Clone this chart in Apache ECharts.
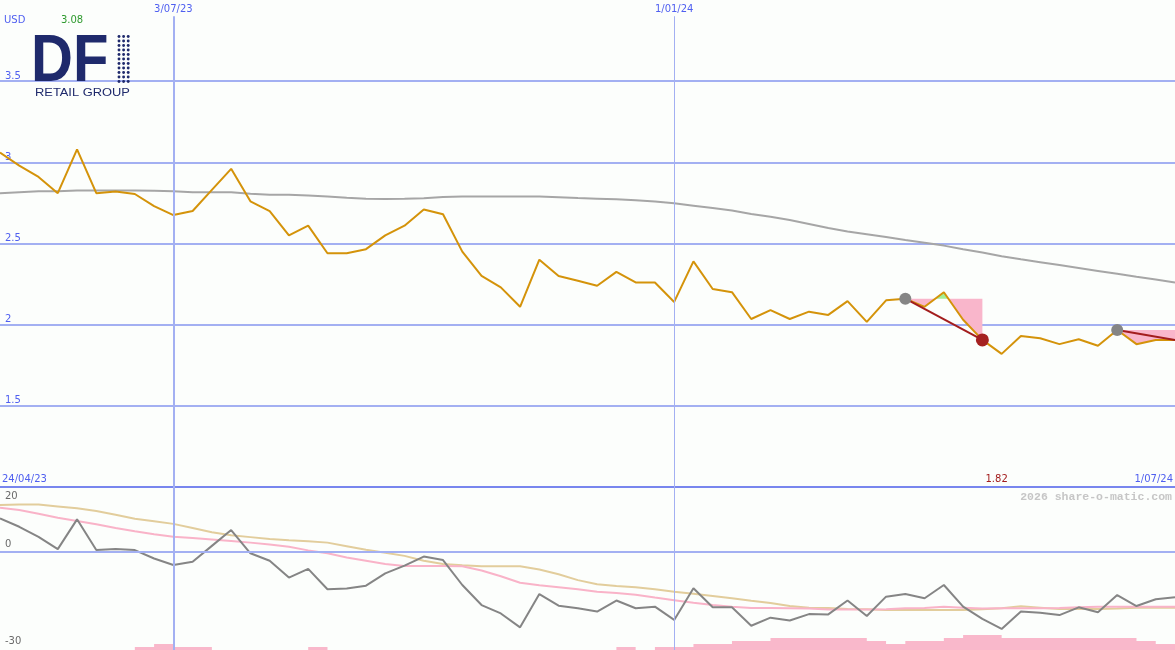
<!DOCTYPE html>
<html><head><meta charset="utf-8">
<script src="https://cdn.jsdelivr.net/npm/echarts@6/dist/echarts.min.js"></script>
<style>html,body{margin:0;padding:0;background:#fcfefc}#c{width:1175px;height:650px}</style>
</head><body><div id="c"></div>
<script>
// ---------- DATA (weekly, first point 1/05/23) ----------
const price = [3.06,2.98,2.91,2.81,3.08,2.81,2.82,2.805,2.73,2.675,
  2.70,2.83,2.96,2.76,2.70,2.55,2.61,2.44,2.44,2.465,
  2.55,2.61,2.71,2.68,2.45,2.30,2.23,2.11,2.40,2.30,
  2.27,2.24,2.325,2.26,2.26,2.14,2.39,2.22,2.20,2.035,
  2.09,2.035,2.08,2.06,2.145,2.017,2.15,2.16,2.11,2.20,
  2.03,1.906,1.82,1.93,1.916,1.88,1.91,1.87,1.967,1.88,
  1.905,1.905];
const priceMA = [2.81,2.816,2.822,2.822,2.826,2.826,2.826,2.826,2.825,2.822,
  2.816,2.816,2.816,2.807,2.80,2.80,2.795,2.789,2.782,2.776,
  2.774,2.776,2.779,2.786,2.789,2.79,2.79,2.79,2.79,2.785,
  2.78,2.776,2.772,2.766,2.758,2.748,2.733,2.718,2.703,2.682,
  2.665,2.645,2.62,2.595,2.574,2.557,2.54,2.522,2.505,2.487,
  2.465,2.445,2.422,2.403,2.385,2.367,2.349,2.331,2.313,2.295,
  2.278,2.26];
const oscillator = [10.3,7.7,4.6,0.8,10.0,0.5,0.8,0.5,-2.1,-4.1,
  -3.1,1.8,6.7,-0.5,-2.8,-8.0,-5.3,-11.6,-11.4,-10.5,
  -6.7,-4.3,-1.5,-2.6,-10.3,-16.5,-19.1,-23.4,-13.1,-16.7,
  -17.5,-18.5,-15.1,-17.5,-17.0,-21.1,-11.3,-17.2,-17.2,-22.9,
  -20.4,-21.3,-19.3,-19.4,-15.1,-19.9,-13.9,-13.1,-14.4,-10.3,
  -17.0,-20.8,-23.9,-18.5,-18.9,-19.6,-17.2,-18.7,-13.4,-16.8,
  -14.7,-14.1];
const oscSlow = [14.4,14.6,14.6,14.0,13.4,12.6,11.4,10.2,9.4,8.6,
  7.3,6.0,5.1,4.5,3.9,3.5,3.2,2.8,1.7,0.6,
  -0.3,-1.3,-2.8,-3.8,-4.2,-4.5,-4.5,-4.5,-5.5,-7.0,
  -8.8,-10.1,-10.6,-11.0,-11.6,-12.4,-13.0,-13.7,-14.4,-15.2,
  -15.9,-16.8,-17.3,-17.4,-17.7,-17.8,-18.0,-18.0,-18.0,-18.0,
  -18.0,-17.8,-17.5,-16.9,-17.3,-17.7,-17.7,-17.7,-17.6,-17.3,
  -17.3,-17.3];
const oscFast = [13.6,12.9,11.7,10.5,9.5,8.5,7.3,6.3,5.4,4.6,
  4.2,3.8,3.3,2.8,2.2,1.5,0.4,-0.5,-1.8,-2.8,
  -3.8,-4.4,-4.4,-4.4,-4.5,-5.8,-7.6,-9.6,-10.4,-11.0,
  -11.6,-12.4,-12.8,-13.3,-14.2,-15.0,-15.8,-16.5,-17.0,-17.4,
  -17.4,-17.5,-17.6,-17.9,-17.9,-17.9,-17.8,-17.5,-17.4,-17.0,
  -17.3,-17.6,-17.5,-17.5,-17.5,-17.4,-17.2,-17.0,-17.0,-17.0,
  -17.0,-17.0];
const lowerBars = [0,0,0,0,0,0,0,1,2,1,
  1,0,0,0,0,0,1,0,0,0,
  0,0,0,0,0,0,0,0,0,0,
  0,0,1,0,1,1,2,2,3,3,
  4,4,4,4,4,3,2,3,3,4,
  5,5,4,4,4,4,4,4,4,3,
  2,2];
const dateMarks = [{idx:9,label:'3/07/23',w:2},{idx:35,label:'1/01/24',w:1}];
const rangeLabels = ['24/04/23','1/07/24'];
const upperTicks = [1.5,2,2.5,3,3.5];
const lowerTicks = [20,0,-30];
const currency = 'USD';
const drawdowns = [{from:47,to:51,closed:true},{from:58,to:61,closed:false}];
const N = price.length;

// ---------- STYLE ----------
const BLUE_TXT = '#4f5ff0', GRID_C = '#a3b0f2', SEP_C = '#7886ee';
const NAVY = '#1f2a6c';
const LFONT = '"DejaVu Sans"';
const pts = a => a.map((v,i)=>[i,v]);

const chart = echarts.init(document.getElementById('c'), null, {renderer:'canvas'});

const option = {
  animation:false,
  backgroundColor:'#fcfefc',
  grid:[{left:0,right:0,top:0,height:487},{left:0,right:0,top:487,height:163}],
  xAxis:[
    {type:'value',gridIndex:0,min:0,max:N-1,show:false},
    {type:'value',gridIndex:1,min:0,max:N-1,show:false}
  ],
  yAxis:[
    {type:'value',gridIndex:0,min:1,max:4,interval:0.5,
     axisLine:{show:false},axisTick:{show:false},
     axisLabel:{inside:true,margin:5,color:BLUE_TXT,fontFamily:'DejaVu Sans',fontSize:10,verticalAlign:'bottom',
       formatter:v=>upperTicks.indexOf(v)>=0?String(v):''},
     splitLine:{show:true,lineStyle:{width:2,color:[SEP_C,GRID_C,GRID_C,GRID_C,GRID_C,GRID_C,'rgba(0,0,0,0)']}}},
    {type:'value',gridIndex:1,min:-30.4,max:20,show:false},
    {type:'value',gridIndex:1,min:0,max:54,show:false}
  ],
  series:[
    {type:'line',xAxisIndex:0,yAxisIndex:0,data:pts(priceMA),symbol:'none',silent:true,z:2,
     lineStyle:{color:'#a6a6a6',width:2},
     markLine:{symbol:'none',silent:true,animation:false,
       data:dateMarks.map(d=>[
         {coord:[d.idx,3.9],lineStyle:{color:GRID_C,width:d.w,type:'solid'},
          label:{show:true,position:'start',distance:2,formatter:d.label,color:BLUE_TXT,fontFamily:'DejaVu Sans',fontSize:10}},
         {coord:[d.idx,1]}])}},
    {type:'custom',xAxisIndex:0,yAxisIndex:0,data:[0],z:3,silent:true,
     renderItem:(params,api)=>{
       const children=[];
       drawdowns.forEach(dd=>{
         const a=dd.from,b=dd.to,level=price[a];
         const seq=[[a,price[a]]];
         for(let i=a;i<b;i++){
           const p0=price[i],p1=price[i+1];
           if((p0-level)*(p1-level)<0){const t=(level-p0)/(p1-p0);seq.push([i+t,level]);}
           seq.push([i+1,p1]);
         }
         const back=[api.coord([b,level]),api.coord([a,level])];
         const below=seq.map(([x,v])=>api.coord([x,Math.min(v,level)]));
         const above=seq.map(([x,v])=>api.coord([x,Math.max(v,level)]));
         children.push({type:'polygon',shape:{points:below.concat(back)},style:{fill:'#f9b6cb'}});
         children.push({type:'polygon',shape:{points:above.concat(back)},style:{fill:'#a2f096'}});
       });
       return {type:'group',children};
     }},
    {type:'line',xAxisIndex:0,yAxisIndex:0,data:pts(price),symbol:'none',silent:true,z:4,
     lineStyle:{color:'#d4930a',width:2}},
    ...drawdowns.map(dd=>({type:'line',xAxisIndex:0,yAxisIndex:0,silent:true,z:5,
      symbol:'circle',showAllSymbol:true,
      lineStyle:{color:'#a31d1d',width:2},
      data:[
        {value:[dd.from,price[dd.from]],symbolSize:12,itemStyle:{color:'#858585'}},
        {value:[dd.to,price[dd.to]],symbolSize:dd.closed?13:0,itemStyle:{color:'#a52121'}}
      ]})),
    // lower panel
    {type:'line',xAxisIndex:1,yAxisIndex:2,data:pts(lowerBars),step:'end',symbol:'none',silent:true,z:1,
     lineStyle:{width:0,color:'#f9b8cb'},areaStyle:{color:'#f9b8cb',opacity:1}},
    {type:'line',xAxisIndex:1,yAxisIndex:1,data:pts(oscSlow),symbol:'none',silent:true,z:2,
     lineStyle:{color:'#e2cd9c',width:2},
     markLine:{symbol:'none',silent:true,animation:false,label:{show:false},
       data:[{yAxis:0,lineStyle:{color:GRID_C,width:2,type:'solid'}}].concat(
         dateMarks.map(d=>[{coord:[d.idx,20],lineStyle:{color:GRID_C,width:d.w,type:'solid'}},{coord:[d.idx,-30.4]}]))}},
    {type:'line',xAxisIndex:1,yAxisIndex:1,data:pts(oscFast),symbol:'none',silent:true,z:3,
     lineStyle:{color:'#f9b3c8',width:2}},
    {type:'line',xAxisIndex:1,yAxisIndex:1,data:pts(oscillator),symbol:'none',silent:true,z:4,
     lineStyle:{color:'#858585',width:2}}
  ]
};
chart.setOption(option);

// ---------- annotations placed through the axes ----------
const toPx = (g,x,y)=>chart.convertToPixel({gridIndex:g},[x,y]);
let maxIdx=0,minIdx=0;
price.forEach((v,i)=>{if(v>price[maxIdx])maxIdx=i;if(v<price[minIdx])minIdx=i;});
const txt = (x,y,text,fill,align,vAlign,font,extra)=>Object.assign({type:'text',x,y,silent:true,z:100,
  style:{text,fill,font,align,textAlign:align,verticalAlign:vAlign,textVerticalAlign:vAlign}},extra||{});
const lblFont = '10px '+LFONT;
const sepY = toPx(0,0,1)[1];
const g = [];
g.push(txt(4,20,currency,BLUE_TXT,'left','middle',lblFont));
g.push(txt(toPx(0,maxIdx,0)[0]-5,20,price[maxIdx].toFixed(2),'#2e9a2e','center','middle',lblFont));
g.push(txt(toPx(0,minIdx,0)[0]-5,sepY-8,price[minIdx].toFixed(2),'#a31d1d','center','middle',lblFont));
g.push(txt(2,sepY-8,rangeLabels[0],BLUE_TXT,'left','middle',lblFont));
g.push(txt(1173,sepY-8,rangeLabels[1],BLUE_TXT,'right','middle',lblFont));
lowerTicks.forEach((v,k)=>{
  const y=toPx(1,0,v)[1];
  g.push(txt(5,k===0?y+4:y-2,String(v),'#6a6a6a','left',k===0?'top':'bottom',lblFont));
});
g.push(txt(1172,sepY+10,'2026 share-o-matic.com','#c6c6c6','right','middle','bold 11.5px "Liberation Mono"'));
// logo
g.push(txt(31,63,'DF',NAVY,'left','middle','bold 66px "Liberation Sans"',{scaleX:0.88}));
for(let c=0;c<3;c++)for(let r=0;r<11;r++)
  g.push({type:'circle',silent:true,z:100,shape:{cx:119+c*4.6,cy:36.5+r*4.5,r:1.45},style:{fill:NAVY}});
g.push(txt(35,93,'RETAIL GROUP',NAVY,'left','middle','11px "Liberation Sans"',{scaleX:1.17}));
chart.setOption({graphic:{elements:g}});
</script></body></html>
